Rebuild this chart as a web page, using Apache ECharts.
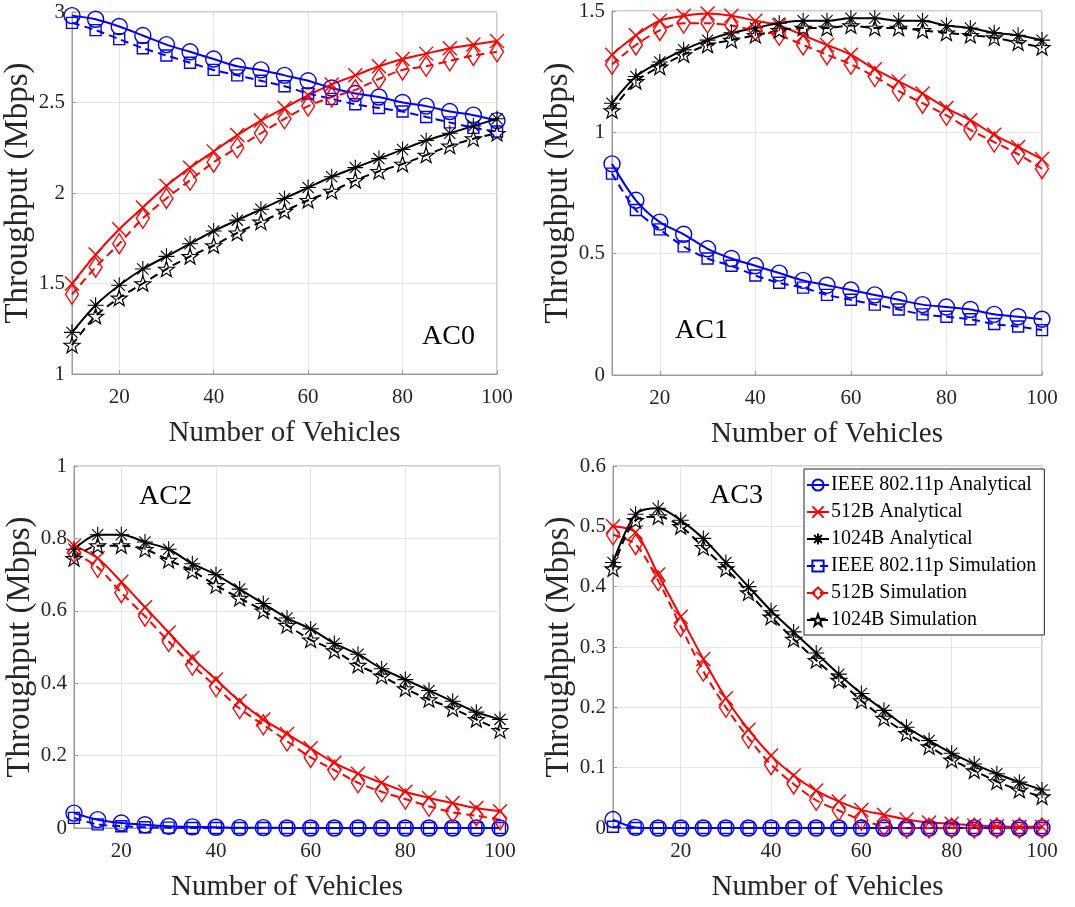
<!DOCTYPE html>
<html>
<head>
<meta charset="utf-8">
<script src="https://cdn.jsdelivr.net/npm/echarts@6/dist/echarts.min.js"></script>
<style>
  html, body { margin: 0; padding: 0; background: #fff; }
  #chart { width: 1075px; height: 907px; }
</style>
</head>
<body>
<div id="chart"></div>
<script>
// x values (number of vehicles)
const xMain = [10, 15, 20, 25, 30, 35, 40, 45, 50, 55, 60, 65, 70, 75, 80, 85, 90, 95, 100];
const xAc3 = [5, 10, 15, 20, 25, 30, 35, 40, 45, 50, 55, 60, 65, 70, 75, 80, 85, 90, 95, 100];
const xTicks = [20, 40, 60, 80, 100];

const seriesNames = [
  'IEEE 802.11p Analytical',
  '512B Analytical',
  '1024B Analytical',
  'IEEE 802.11p Simulation',
  '512B Simulation',
  '1024B Simulation'
];

// AC0
const ac0IeeeAna = [2.98, 2.96, 2.92, 2.87, 2.82, 2.78, 2.74, 2.70, 2.68, 2.65, 2.62, 2.58, 2.55, 2.53, 2.50, 2.48, 2.45, 2.43, 2.40];
const ac0B512Ana = [1.50, 1.66, 1.80, 1.92, 2.04, 2.14, 2.23, 2.32, 2.40, 2.47, 2.54, 2.60, 2.65, 2.70, 2.74, 2.77, 2.80, 2.82, 2.84];
const ac0B1024Ana = [1.23, 1.38, 1.49, 1.58, 1.65, 1.72, 1.79, 1.85, 1.91, 1.97, 2.03, 2.09, 2.14, 2.19, 2.24, 2.29, 2.33, 2.37, 2.41];
const ac0IeeeSim = [2.94, 2.90, 2.85, 2.80, 2.76, 2.72, 2.68, 2.65, 2.62, 2.59, 2.55, 2.52, 2.49, 2.47, 2.45, 2.42, 2.39, 2.36, 2.34];
const ac0B512Sim = [1.44, 1.59, 1.72, 1.86, 1.97, 2.07, 2.17, 2.25, 2.33, 2.41, 2.48, 2.53, 2.57, 2.63, 2.68, 2.70, 2.73, 2.76, 2.78];
const ac0B1024Sim = [1.16, 1.32, 1.42, 1.50, 1.58, 1.65, 1.71, 1.78, 1.84, 1.90, 1.96, 2.01, 2.07, 2.12, 2.16, 2.21, 2.26, 2.30, 2.33];

// AC1
const ac1IeeeAna = [0.87, 0.72, 0.63, 0.58, 0.52, 0.48, 0.45, 0.42, 0.39, 0.37, 0.35, 0.33, 0.31, 0.29, 0.28, 0.27, 0.25, 0.24, 0.23];
const ac1B512Ana = [1.32, 1.40, 1.46, 1.48, 1.49, 1.48, 1.46, 1.44, 1.40, 1.36, 1.32, 1.26, 1.21, 1.16, 1.10, 1.05, 0.99, 0.94, 0.89];
const ac1B1024Ana = [1.12, 1.23, 1.29, 1.34, 1.38, 1.41, 1.43, 1.45, 1.46, 1.46, 1.47, 1.47, 1.46, 1.46, 1.44, 1.43, 1.41, 1.40, 1.38];
const ac1IeeeSim = [0.83, 0.68, 0.60, 0.53, 0.48, 0.45, 0.41, 0.38, 0.36, 0.33, 0.31, 0.29, 0.27, 0.25, 0.24, 0.23, 0.21, 0.20, 0.185];
const ac1B512Sim = [1.28, 1.36, 1.42, 1.45, 1.45, 1.44, 1.42, 1.40, 1.36, 1.32, 1.28, 1.23, 1.17, 1.12, 1.07, 1.01, 0.96, 0.91, 0.85];
const ac1B1024Sim = [1.09, 1.21, 1.27, 1.32, 1.36, 1.38, 1.40, 1.42, 1.43, 1.43, 1.44, 1.43, 1.43, 1.42, 1.41, 1.40, 1.39, 1.37, 1.35];

// AC2
const ac2IeeeAna = [0.041, 0.023, 0.014, 0.009, 0.005, 0.003, 0.002, 0.001, 0.001, 0, 0, 0, 0, 0, 0, 0, 0, 0, 0];
const ac2B512Ana = [0.78, 0.745, 0.68, 0.61, 0.54, 0.47, 0.41, 0.35, 0.30, 0.26, 0.22, 0.18, 0.15, 0.125, 0.10, 0.083, 0.069, 0.055, 0.046];
const ac2B1024Ana = [0.77, 0.81, 0.81, 0.79, 0.77, 0.73, 0.70, 0.66, 0.62, 0.58, 0.55, 0.51, 0.48, 0.44, 0.41, 0.38, 0.35, 0.32, 0.30];
const ac2IeeeSim = [0.028, 0.01, 0.005, 0.002, 0.001, 0, 0, 0, 0, 0, 0, 0, 0, 0, 0, 0, 0, 0, 0];
const ac2B512Sim = [0.76, 0.72, 0.65, 0.585, 0.515, 0.45, 0.39, 0.33, 0.285, 0.24, 0.195, 0.16, 0.125, 0.10, 0.08, 0.06, 0.043, 0.034, 0.023];
const ac2B1024Sim = [0.745, 0.78, 0.78, 0.77, 0.74, 0.71, 0.67, 0.635, 0.60, 0.56, 0.52, 0.49, 0.45, 0.42, 0.385, 0.355, 0.33, 0.30, 0.27];

// AC3 (starts at 5 vehicles)
const ac3IeeeAna = [0.014, 0.001, 0, 0, 0, 0, 0, 0, 0, 0, 0, 0, 0, 0, 0, 0, 0, 0, 0, 0];
const ac3B512Ana = [0.50, 0.49, 0.42, 0.35, 0.28, 0.215, 0.163, 0.12, 0.087, 0.062, 0.044, 0.03, 0.022, 0.014, 0.009, 0.007, 0.004, 0.003, 0.002, 0.002];
const ac3B1024Ana = [0.44, 0.52, 0.53, 0.51, 0.48, 0.44, 0.40, 0.36, 0.325, 0.29, 0.255, 0.223, 0.195, 0.167, 0.145, 0.124, 0.106, 0.09, 0.076, 0.063];
const ac3IeeeSim = [0.002, 0, 0, 0, 0, 0, 0, 0, 0, 0, 0, 0, 0, 0, 0, 0, 0, 0, 0, 0];
const ac3B512Sim = [0.486, 0.47, 0.41, 0.334, 0.26, 0.20, 0.149, 0.105, 0.073, 0.046, 0.029, 0.013, 0.003, 0, 0, 0, 0, 0, 0, 0];
const ac3B1024Sim = [0.43, 0.51, 0.516, 0.50, 0.465, 0.43, 0.39, 0.35, 0.313, 0.278, 0.245, 0.211, 0.182, 0.157, 0.135, 0.113, 0.095, 0.077, 0.063, 0.052];

const SERIF = 'Liberation Serif';
const TXT = '#262626';
const FRAME = '#9a9a9a';

const starPath = 'path://M10,0L12.35,6.76L19.51,6.91L13.8,11.24L15.88,18.09L10,14L4.12,18.09L6.2,11.24L0.49,6.91L7.65,6.76Z';
const crossPath = 'path://M0,0L20,20M20,0L0,20';
const asteriskPath = 'path://M10,0L10,20M0,10L20,10M3,3L17,17M17,3L3,17';

// marker / line style per legend entry
const looks = {
  'IEEE 802.11p Analytical': { color: '#0000ff', dash: false, symbol: 'circle', size: 16, bw: 1.4 },
  '512B Analytical': { color: '#ff0000', dash: false, symbol: crossPath, size: 14, bw: 1.4 },
  '1024B Analytical': { color: '#000000', dash: false, symbol: asteriskPath, size: 16, bw: 1.1 },
  'IEEE 802.11p Simulation': { color: '#0000ff', dash: true, symbol: 'rect', size: 11, bw: 1.4 },
  '512B Simulation': { color: '#ff0000', dash: true, symbol: 'diamond', size: [13, 20], bw: 1.4 },
  '1024B Simulation': { color: '#000000', dash: true, symbol: starPath, size: 16, bw: 1.2 }
};

const panels = [
  { xs: xMain, vals: [ac0IeeeAna, ac0B512Ana, ac0B1024Ana, ac0IeeeSim, ac0B512Sim, ac0B1024Sim] },
  { xs: xMain, vals: [ac1IeeeAna, ac1B512Ana, ac1B1024Ana, ac1IeeeSim, ac1B512Sim, ac1B1024Sim] },
  { xs: xMain, vals: [ac2IeeeAna, ac2B512Ana, ac2B1024Ana, ac2IeeeSim, ac2B512Sim, ac2B1024Sim] },
  { xs: xAc3, vals: [ac3IeeeAna, ac3B512Ana, ac3B1024Ana, ac3IeeeSim, ac3B512Sim, ac3B1024Sim] }
];

const grids = [
  { left: 72, top: 12, width: 425, height: 362 },
  { left: 612, top: 11, width: 430, height: 364 },
  { left: 74, top: 466, width: 426, height: 362 },
  { left: 613, top: 466, width: 429, height: 362 }
];

const yRanges = [
  { min: 1, max: 3, interval: 0.5, gap: 30 },
  { min: 0, max: 1.5, interval: 0.5, gap: 30 },
  { min: 0, max: 1, interval: 0.2, gap: 32 },
  { min: 0, max: 0.6, interval: 0.1, gap: 35 }
];
const xMins = [10, 10, 10, 5];

const series = [];
panels.forEach((p, i) => {
  p.vals.forEach((ys, k) => {
    const name = seriesNames[k];
    const lk = looks[name];
    series.push({
      name,
      type: 'line',
      xAxisIndex: i,
      yAxisIndex: i,
      smooth: 0.3,
      data: p.xs.map((x, j) => [x, ys[j]]),
      symbol: lk.symbol,
      symbolSize: lk.size,
      symbolKeepAspect: true,
      showAllSymbol: true,
      lineStyle: { color: lk.color, width: 2, type: lk.dash ? [8, 5] : 'solid' },
      itemStyle: { color: 'none', borderColor: lk.color, borderWidth: lk.bw },
      emphasis: { disabled: true }
    });
  });
});

const chart = echarts.init(document.getElementById('chart'));
chart.setOption({
  animation: false,
  backgroundColor: '#fff',
  grid: grids.map(g => Object.assign({ show: true, borderColor: FRAME, borderWidth: 1, backgroundColor: 'transparent' }, g)),
  xAxis: grids.map((g, i) => ({
    gridIndex: i,
    type: 'value',
    min: xMins[i],
    max: 100,
    name: 'Number of Vehicles',
    nameLocation: 'middle',
    nameGap: 45,
    nameTextStyle: { fontFamily: SERIF, fontSize: 29, color: TXT },
    axisLine: { lineStyle: { color: FRAME } },
    axisTick: { show: true, inside: true, length: 4, customValues: xTicks, lineStyle: { color: FRAME } },
    axisLabel: { customValues: xTicks, fontFamily: SERIF, fontSize: 21, color: TXT, margin: 13 },
    splitLine: { show: true, lineStyle: { color: '#e6e6e6' } }
  })),
  yAxis: yRanges.map((r, i) => ({
    gridIndex: i,
    type: 'value',
    min: r.min,
    max: r.max,
    interval: r.interval,
    name: 'Throughput (Mbps)',
    nameLocation: 'middle',
    nameGap: r.gap,
    nameTextStyle: { fontFamily: SERIF, fontSize: 33, color: TXT },
    axisLine: { show: true, lineStyle: { color: FRAME } },
    axisTick: { show: true, inside: true, length: 4, lineStyle: { color: FRAME } },
    axisLabel: { fontFamily: SERIF, fontSize: 21, color: TXT, margin: 7 },
    splitLine: { show: true, lineStyle: { color: '#e6e6e6' } }
  })),
  legend: {
    data: seriesNames,
    orient: 'vertical',
    left: 804,
    top: 469,
    padding: [6, 8, 5, 2],
    itemGap: 7,
    itemWidth: 22,
    itemHeight: 14,
    backgroundColor: '#fff',
    borderColor: '#262626',
    borderWidth: 1,
    borderRadius: 0,
    textStyle: { fontFamily: SERIF, fontSize: 20, color: '#000', padding: [0, 0, 0, -3] }
  },
  graphic: [
    { type: 'text', left: 422, top: 323, style: { text: 'AC0', font: '28px "Liberation Serif"', fill: '#000' } },
    { type: 'text', left: 675, top: 317, style: { text: 'AC1', font: '28px "Liberation Serif"', fill: '#000' } },
    { type: 'text', left: 139, top: 483, style: { text: 'AC2', font: '28px "Liberation Serif"', fill: '#000' } },
    { type: 'text', left: 710, top: 482, style: { text: 'AC3', font: '28px "Liberation Serif"', fill: '#000' } }
  ],
  series
});
</script>
</body>
</html>
